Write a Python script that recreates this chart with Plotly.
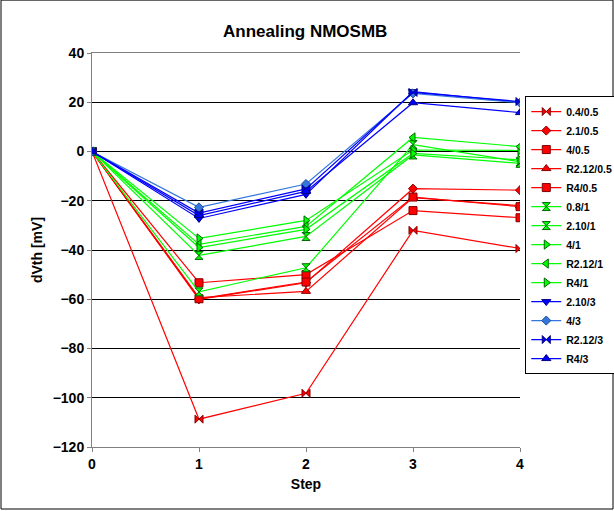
import plotly.graph_objects as go

steps = [0, 1, 2, 3, 4]
names = ["0.4/0.5", "2.1/0.5", "4/0.5", "R2.12/0.5", "R4/0.5",
         "0.8/1", "2.10/1", "4/1", "R2.12/1", "R4/1",
         "2.10/3", "4/3", "R2.12/3", "R4/3"]
values = {
    "0.4/0.5":   [0, -108.7, -98.2, -32.0, -39.4],
    "2.1/0.5":   [0, -60.0, -53.3, -15.1, -15.7],
    "4/0.5":     [0, -53.3, -50.0, -24.0, -26.9],
    "R2.12/0.5": [0, -59.3, -56.8, -18.7, -22.0],
    "R4/0.5":    [0, -59.8, -53.0, -18.5, -22.4],
    "0.8/1":     [0, -57.0, -47.2, 2.8, -4.2],
    "2.10/1":    [0, -42.2, -34.5, -1.4, -4.8],
    "4/1":       [0, -35.3, -28.0, 0.6, 0.4],
    "R2.12/1":   [0, -37.7, -30.4, 5.7, 2.0],
    "R4/1":      [0, -39.0, -31.6, -0.8, -3.4],
    "2.10/3":    [0, -27.2, -17.4, 24.3, 20.0],
    "4/3":       [0, -22.7, -13.2, 23.6, 19.8],
    "R2.12/3":   [0, -25.0, -15.2, 24.0, 20.3],
    "R4/3":      [0, -26.0, -16.2, 19.8, 15.8],
}

RED, GREEN, BLUE, LBLUE = "#FF0000", "#00FF00", "#0000FF", "#3377DD"
style = {
    "0.4/0.5":   (RED, "bowtie", "#800000"),
    "2.1/0.5":   (RED, "diamond", "#800000"),
    "4/0.5":     (RED, "square", "#800000"),
    "R2.12/0.5": (RED, "triangle-up", "#800000"),
    "R4/0.5":    (RED, "square", "#800000"),
    "0.8/1":     (GREEN, "hourglass", "#006600"),
    "2.10/1":    (GREEN, "hourglass", "#006600"),
    "4/1":       (GREEN, "triangle-right", "#006600"),
    "R2.12/1":   (GREEN, "triangle-left", "#006600"),
    "R4/1":      (GREEN, "triangle-right", "#006600"),
    "2.10/3":    (BLUE, "triangle-down", "#000080"),
    "4/3":       (LBLUE, "diamond", "#1F4E99"),
    "R2.12/3":   (BLUE, "bowtie", "#000080"),
    "R4/3":      (BLUE, "triangle-up", "#000080"),
}

FONT = "Liberation Sans, Arial, sans-serif"
fig = go.Figure()
for n in names:
    c, sym, edge = style[n]
    sz = 7 if sym == "diamond" else 8
    fig.add_trace(go.Scatter(
        x=steps, y=values[n], name=n, mode="lines+markers",
        line=dict(color=c, width=1.2),
        marker=dict(symbol=sym, size=sz, color=c, line=dict(color=edge, width=1)),
    ))

fig.update_layout(
    width=614, height=511,
    margin=dict(l=92, r=94, t=53, b=64, autoexpand=False),
    paper_bgcolor="white", plot_bgcolor="white",
    title=dict(text="Annealing NMOSMB", x=0.497, xanchor="center", y=0.94, yanchor="middle",
               font=dict(family=FONT, size=17, color="black", weight="bold")),
    font=dict(family=FONT, color="black"),
    showlegend=True,
    legend=dict(xref="container", yref="container", x=0.8555, y=0.812, xanchor="left", yanchor="top",
                bordercolor="black", borderwidth=1, bgcolor="white", maxheight=400,
                font=dict(family=FONT, size=10.5, color="black", weight="bold"),
                tracegroupgap=0, itemwidth=30),
    xaxis=dict(range=[0, 4], tickvals=steps, showgrid=False, zeroline=False,
               showline=True, linecolor="#808080", linewidth=1, mirror=True,
               ticks="outside", ticklen=4, tickcolor="#808080",
               tickfont=dict(family=FONT, size=14, color="black", weight="bold"),
               title=dict(text="Step", font=dict(family=FONT, size=14, color="black", weight="bold"), standoff=8)),
    yaxis=dict(range=[-120, 40], dtick=20, showgrid=True, gridcolor="black", gridwidth=1,
               zeroline=False, showline=True, linecolor="#808080", linewidth=1,
               ticks="outside", ticklen=4, tickcolor="#808080",
               tickfont=dict(family=FONT, size=14, color="black", weight="bold"),
               title=dict(text="dVth [mV]", font=dict(family=FONT, size=14, color="black", weight="bold"), standoff=6)),
)
fig.add_shape(type="rect", xref="paper", yref="paper",
              x0=-91/428, x1=(613-92)/428, y0=-62/394, y1=(447-0.5)/394 + 0.001,
              line=dict(color="black", width=1), layer="below")
fig.write_html("out.html", config={"displayModeBar": False},
               post_script="document.body.style.margin='0';document.body.style.overflow='hidden';")
